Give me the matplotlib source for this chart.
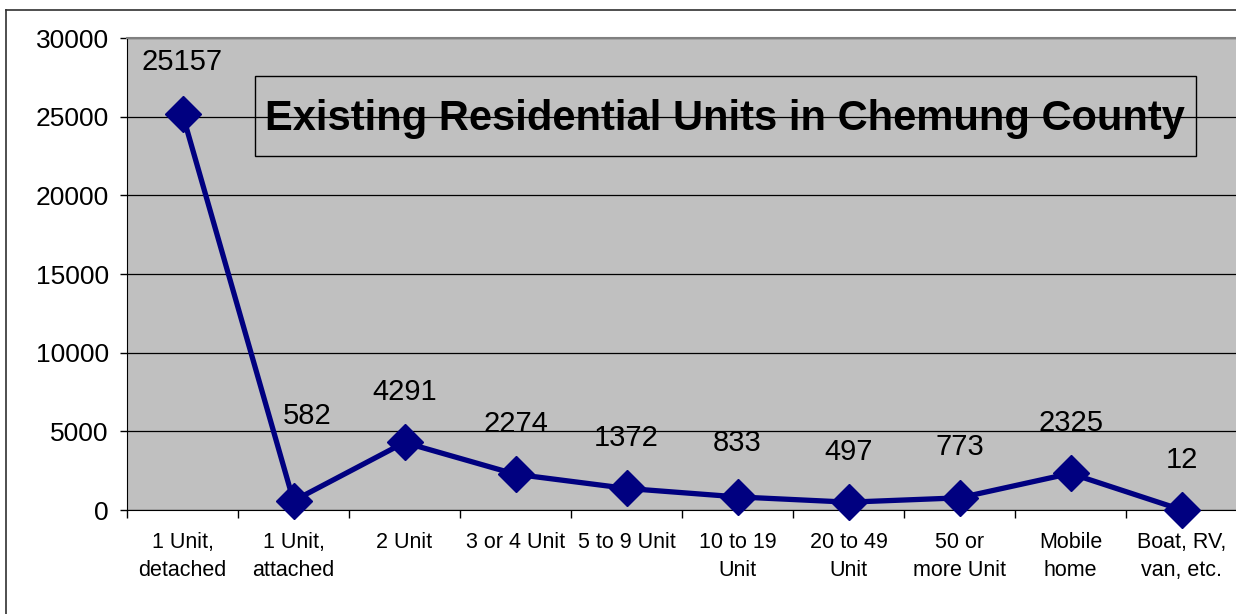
import matplotlib
matplotlib.use("Agg")
import matplotlib.pyplot as plt
from matplotlib.lines import Line2D
from matplotlib.patches import Rectangle
import numpy as np

categories = ["1 Unit,\ndetached", "1 Unit,\nattached", "2 Unit", "3 or 4 Unit", "5 to 9 Unit",
              "10 to 19\nUnit", "20 to 49\nUnit", "50 or\nmore Unit", "Mobile\nhome", "Boat, RV,\nvan, etc."]
values = [25157, 582, 4291, 2274, 1372, 833, 497, 773, 2325, 12]
y_ticks = [0, 5000, 10000, 15000, 20000, 25000, 30000]
title = "Existing Residential Units in Chemung County"

# label offsets in pixels (dx, dy)
label_dx = [0, 14, 0, 0, 0, 0, 0, 0, 0, 0]
label_dy = [52, 85, 50, 50, 50, 54, 50, 51, 50, 50]

plt.rcParams['font.family'] = ['Liberation Sans', 'DejaVu Sans']

W, H = 1236, 614
fig = plt.figure(figsize=(W/100, H/100), dpi=100)
fig.patch.set_facecolor("white")

def fx(px):
    return px / W

def fy(py):
    return 1 - py / H

# outer chart frame (cropped at right and bottom)
fig.add_artist(Line2D([fx(6), fx(6)], [0, fy(10)], transform=fig.transFigure, color="#303030", lw=1.2))
fig.add_artist(Line2D([fx(6), 1.0], [fy(10), fy(10)], transform=fig.transFigure, color="#303030", lw=1.2))

ax = fig.add_axes([fx(127), fy(510), (1237 - 127)/W, (510 - 38)/H])
ax.set_facecolor("#C0C0C0")

x = np.arange(len(values))
ax.set_xlim(-0.5, len(values) - 0.5)
ax.set_ylim(0, 30000)
ax.set_yticks(y_ticks)
ax.set_yticklabels([str(v) for v in y_ticks], fontsize=19)
ax.yaxis.grid(True, color="black", lw=0.9)
ax.set_axisbelow(True)

ax.set_xticks(x)
ax.set_xticklabels(categories, fontsize=15.5, linespacing=1.45)
ax.set_xticks(np.arange(len(values) + 1) - 0.5, minor=True)
ax.tick_params(axis='x', which='major', length=0, pad=16)
ax.tick_params(axis='x', which='minor', length=6, width=1, direction='out', color='black')
ax.tick_params(axis='y', length=5, width=1, direction='out', pad=8)

ax.spines["right"].set_visible(False)
ax.spines["top"].set_color("#808080")
ax.spines["top"].set_linewidth(1.5)
ax.spines["left"].set_color("black")
ax.spines["bottom"].set_color("black")

ax.plot(x, values, color="#000080", lw=3.8, marker="D", markersize=18.5,
        markerfacecolor="#000080", markeredgecolor="#000080", zorder=5, clip_on=False)

for i, v in enumerate(values):
    ax.annotate(str(v), (x[i], v), xytext=(label_dx[i], label_dy[i]), textcoords="offset pixels",
                ha="center", va="center", fontsize=21, color="black", zorder=6)

# title box
fig.add_artist(Rectangle((fx(255), fy(156)), fx(1196) - fx(255), fy(76) - fy(156),
                         transform=fig.transFigure, facecolor="none", edgecolor="black", lw=1, zorder=7))
fig.text(fx(725), fy(130), title, ha="center", va="baseline",
         fontsize=30, fontweight="bold", color="black", zorder=8)

fig.savefig("out.png", dpi=100, facecolor="white")
